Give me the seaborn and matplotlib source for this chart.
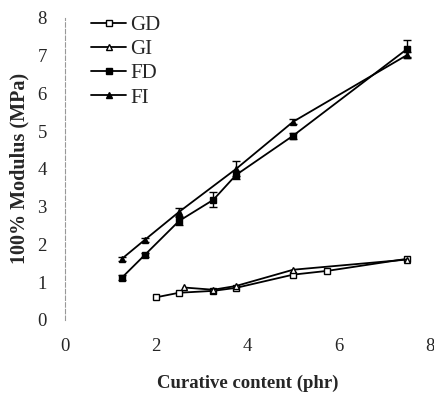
import numpy as np
import pandas as pd
import matplotlib.pyplot as plt
import seaborn as sns

# Values
gd_x = [2.0, 2.5, 3.25, 3.75, 5.0, 5.75, 7.5]
gd_y = [0.6, 0.72, 0.77, 0.85, 1.2, 1.3, 1.62]

gi_x = [2.6, 3.25, 3.75, 5.0, 7.5]
gi_y = [0.86, 0.8, 0.9, 1.33, 1.6]

fd_x = [1.25, 1.75, 2.5, 3.25, 3.75, 5.0, 7.5]
fd_y = [1.12, 1.72, 2.62, 3.18, 3.84, 4.88, 7.18]
fd_err = [0.07, 0.06, 0.1, 0.2, 0.1, 0.08, 0.22]

fi_x = [1.25, 1.75, 2.5, 3.75, 5.0, 7.5]
fi_y = [1.62, 2.12, 2.86, 4.0, 5.25, 7.02]
fi_err = [0.06, 0.06, 0.1, 0.2, 0.06, 0.08]

series = [
    ("GD", gd_x, gd_y, None, "s", "white"),
    ("GI", gi_x, gi_y, None, "^", "white"),
    ("FD", fd_x, fd_y, fd_err, "s", "black"),
    ("FI", fi_x, fi_y, fi_err, "^", "black"),
]

sns.set_style("white")
plt.rcParams["font.family"] = ["Liberation Serif", "DejaVu Serif"]

fig = plt.figure(figsize=(4.35, 4.05), dpi=100)
ax = fig.add_axes([0.149, 0.21, 0.84, 0.746])

for name, xs, ys, err, mk, fc in series:
    df = pd.DataFrame({"x": xs, "y": ys})
    sns.lineplot(data=df, x="x", y="y", ax=ax, color="black", lw=1.3,
                 marker=mk, markersize=5, markerfacecolor=fc,
                 markeredgecolor="black", markeredgewidth=1.0, label=name)
    if err is not None:
        ax.errorbar(xs, ys, yerr=err, fmt="none", ecolor="black",
                    elinewidth=1.0, capsize=3, capthick=1.0)

ax.set_xlim(0, 8)
ax.set_ylim(0, 8)
ax.set_xticks(np.arange(0, 9, 2))
ax.set_yticks(np.arange(0, 9, 1))
ax.tick_params(axis="both", length=0, labelsize=13.5)
ax.tick_params(axis="x", pad=13)
ax.tick_params(axis="y", pad=13)

for s in ["top", "right", "bottom"]:
    ax.spines[s].set_visible(False)
ax.spines["left"].set_color("#999999")
ax.spines["left"].set_linestyle((0, (4, 2)))
ax.spines["left"].set_linewidth(0.8)

ax.set_xlabel("Curative content (phr)", fontsize=13.5, fontweight="bold", labelpad=14)
ax.set_ylabel("100% Modulus (MPa)", fontsize=14.5, fontweight="bold")
ax.yaxis.set_label_coords(-0.096, 0.5)

ax.legend(loc="upper left", bbox_to_anchor=(0.02, 1.07), frameon=False,
          fontsize=15, handlelength=1.7, handletextpad=0.2, labelspacing=0.22)

fig.savefig("out.png", dpi=100)
